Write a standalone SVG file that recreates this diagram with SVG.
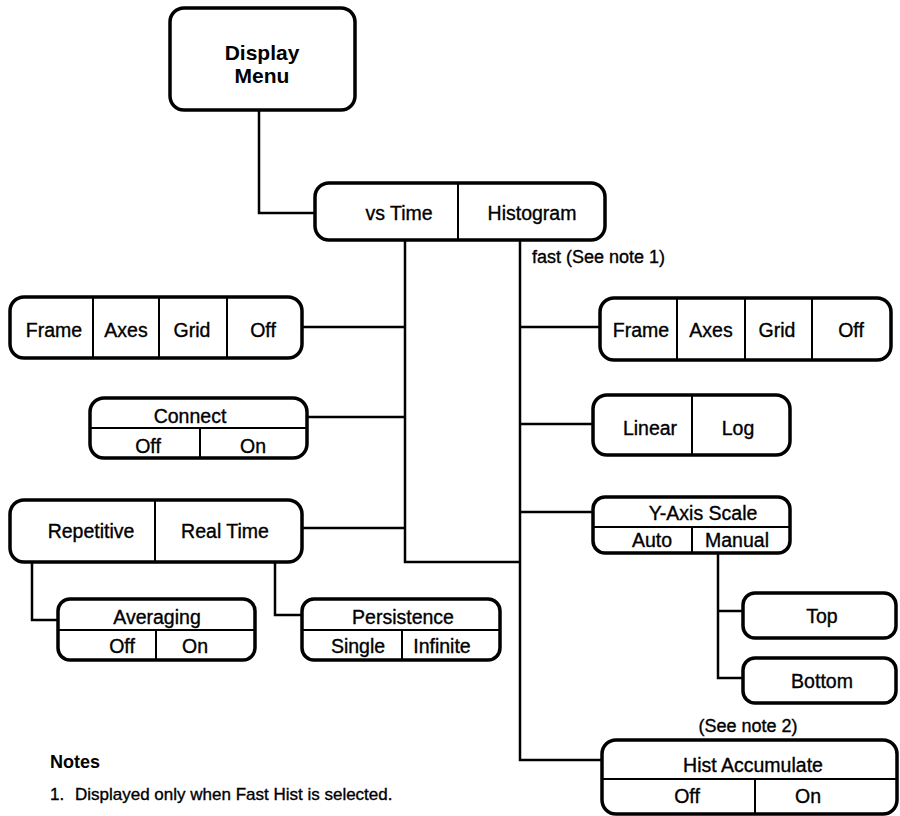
<svg xmlns="http://www.w3.org/2000/svg" width="900" height="816" viewBox="0 0 900 816">
<style>
.box{fill:#fff;stroke:#000;stroke-width:3.5}
.div{fill:none;stroke:#000;stroke-width:2}
.con{fill:none;stroke:#000;stroke-width:2.5}
text{font-family:"Liberation Sans",Arial,sans-serif;font-size:19.5px;fill:#000;stroke:#000;stroke-width:0.35;text-anchor:middle}
.t{font-size:21px;font-weight:bold;stroke-width:0}
.s{font-size:17px;text-anchor:start}
.n{font-size:18px;font-weight:bold;text-anchor:start;stroke-width:0}
</style>
<rect width="900" height="816" fill="#fff"/>
<g id="connectors">
<path class="con" d="M259,110 V213 H315"/>
<path class="con" d="M405,240 V562 H520"/>
<path class="con" d="M520,240 V760 H602"/>
<path class="con" d="M302,327 H405"/>
<path class="con" d="M307,417 H405"/>
<path class="con" d="M302,528 H405"/>
<path class="con" d="M32,562 V620 H58"/>
<path class="con" d="M275,562 V615 H302"/>
<path class="con" d="M520,327 H600"/>
<path class="con" d="M520,424 H593"/>
<path class="con" d="M520,512 H593"/>
<path class="con" d="M718,553 V678 H743 M718,611 H743"/>
</g>
<g id="display-menu">
<rect class="box" x="170" y="8" width="185" height="102" rx="14"/>
<text class="t" x="262" y="60">Display</text>
<text class="t" x="262" y="83">Menu</text>
</g>
<g id="mode">
<rect class="box" x="315" y="183" width="290" height="57" rx="14"/>
<line class="div" x1="458" y1="183" x2="458" y2="240"/>
<text x="399" y="220">vs Time</text>
<text x="532" y="220">Histogram</text>
</g>
<text class="s" x="532" y="263" style="font-size:18px">fast (See note 1)</text>
<g id="frame-left">
<rect class="box" x="10" y="297" width="292" height="61" rx="14"/>
<path class="div" d="M93,297 V358 M159,297 V358 M227,297 V358"/>
<text x="54" y="337">Frame</text>
<text x="126" y="337">Axes</text>
<text x="192" y="337">Grid</text>
<text x="263" y="337">Off</text>
</g>
<g id="connect">
<rect class="box" x="90" y="398" width="217" height="60" rx="14"/>
<path class="div" d="M90,428 H307 M200,428 V458"/>
<text x="190" y="423">Connect</text>
<text x="148" y="453">Off</text>
<text x="253" y="453">On</text>
</g>
<g id="acq">
<rect class="box" x="10" y="500" width="292" height="62" rx="14"/>
<line class="div" x1="155" y1="500" x2="155" y2="562"/>
<text x="91" y="538">Repetitive</text>
<text x="225" y="538">Real Time</text>
</g>
<g id="averaging">
<rect class="box" x="58" y="599" width="197" height="61" rx="12"/>
<path class="div" d="M58,630 H255 M156,630 V660"/>
<text x="157" y="624">Averaging</text>
<text x="122" y="653">Off</text>
<text x="195" y="653">On</text>
</g>
<g id="persistence">
<rect class="box" x="302" y="599" width="198" height="61" rx="12"/>
<path class="div" d="M302,630 H500 M402,630 V660"/>
<text x="403" y="624">Persistence</text>
<text x="358" y="653">Single</text>
<text x="442" y="653">Infinite</text>
</g>
<g id="frame-right">
<rect class="box" x="600" y="298" width="291" height="62" rx="14"/>
<path class="div" d="M677,298 V360 M745,298 V360 M812,298 V360"/>
<text x="641" y="337">Frame</text>
<text x="711" y="337">Axes</text>
<text x="777" y="337">Grid</text>
<text x="851" y="337">Off</text>
</g>
<g id="scale">
<rect class="box" x="593" y="395" width="197" height="60" rx="14"/>
<line class="div" x1="692" y1="395" x2="692" y2="455"/>
<text x="650" y="435">Linear</text>
<text x="738" y="435">Log</text>
</g>
<g id="yaxis">
<rect class="box" x="593" y="497" width="197" height="56" rx="12"/>
<path class="div" d="M593,527 H790 M692,527 V553"/>
<text x="703" y="520">Y-Axis Scale</text>
<text x="652" y="547">Auto</text>
<text x="737" y="547">Manual</text>
</g>
<g id="top">
<rect class="box" x="743" y="593" width="153" height="45" rx="12"/>
<text x="822" y="623">Top</text>
</g>
<g id="bottom">
<rect class="box" x="743" y="658" width="153" height="45" rx="12"/>
<text x="822" y="688">Bottom</text>
</g>
<text x="748" y="732" style="font-size:18px">(See note 2)</text>
<g id="hist-acc">
<rect class="box" x="602" y="740" width="295" height="74" rx="14"/>
<path class="div" d="M602,779 H897 M755,779 V814"/>
<text x="753" y="772">Hist Accumulate</text>
<text x="687" y="803">Off</text>
<text x="808" y="803">On</text>
</g>
<g id="notes">
<text class="n" x="50" y="768">Notes</text>
<text class="s" x="50" y="800">1.</text>
<text class="s" x="75" y="800">Displayed only when Fast Hist is selected.</text>
</g>
</svg>
